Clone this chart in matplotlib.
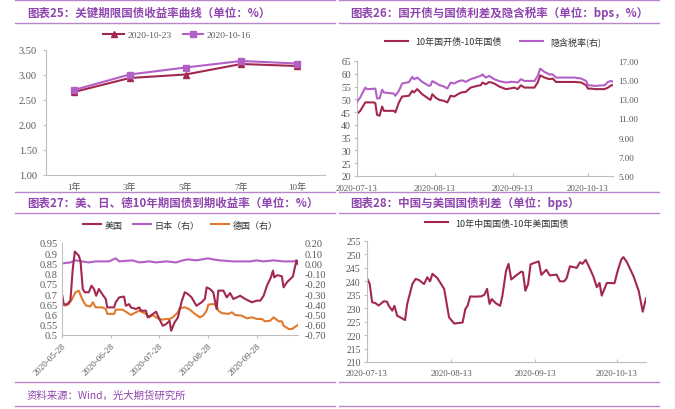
import numpy as np
import matplotlib
matplotlib.use('Agg')
import matplotlib.pyplot as plt
from matplotlib.lines import Line2D

plt.rcParams['font.family'] = ['Liberation Serif', 'Noto Sans CJK SC']
plt.rcParams['axes.unicode_minus'] = False

W, H = 675, 410

RED = '#A3284E'
PURPLE = '#B45FC6'
ORANGE = '#E07A2E'
TITLE = '#8F45AE'
RULE = '#B985CC'
AXIS = '#BFBFBF'
TXT = '#595959'

# ---- chart 25: yield curve
tenors = ['1年', '3年', '5年', '7年', '10年']
curve_1023 = [2.66, 2.94, 3.01, 3.22, 3.18]
curve_1016 = [2.70, 3.01, 3.15, 3.28, 3.23]

# ---- chart 26: days since 2020-07-13
d26 = [0, 1.3, 3.3, 4, 6.7, 7.3, 8, 9, 10, 10.7, 14.7, 15.3, 16.7, 18, 20.7, 22,
       22.7, 24, 26, 28.7, 29.3, 30, 31.3, 32.7, 34.7, 36, 37.3, 38.7, 40.7, 42,
       43.3, 45.3, 48, 49.3, 50, 51.3, 52.7, 54.7, 56.7, 59.3, 61.3, 62.7, 64,
       65.3, 66.7, 70.7, 72, 73, 74.7, 76.7, 78, 79.3, 86.7, 89.3, 91.3, 92, 93.3,
       94.7, 98.7, 100, 101.3, 102]
spread_cdb = [44.3, 45.5, 48.8, 48.8, 48.8, 48.5, 43.9, 43.6, 47.2, 45.5, 45.5, 44.9,
              48.8, 51.1, 51.4, 53.3, 52.7, 54.0, 52.0, 50.1, 49.8, 52.0, 50.7, 49.8,
              49.4, 48.8, 51.4, 51.1, 52.3, 52.8, 52.9, 54.6, 55.3, 55.5, 56.6, 55.9,
              56.8, 56.2, 55.0, 54.0, 54.3, 54.6, 54.0, 55.5, 54.6, 54.6, 56.6, 59.4,
              58.5, 57.9, 58.1, 56.8, 56.8, 56.6, 55.5, 54.2, 54.2, 54.0, 54.0, 54.6,
              55.5, 55.5]
tax_rate = [12.74, 13.2, 14.23, 14.06, 14.1, 14.13, 13.1, 13.1, 14.0, 13.72, 13.6, 13.37,
            13.9, 14.65, 14.8, 15.34, 15.1, 15.27, 14.82, 14.4, 14.45, 14.9, 14.72, 14.5,
            14.33, 14.13, 14.75, 14.65, 14.92, 14.98, 14.82, 15.1, 15.34, 15.45, 15.6,
            15.27, 15.44, 15.1, 14.9, 14.75, 14.82, 14.82, 14.75, 15.1, 14.92, 14.92,
            15.44, 16.2, 15.86, 15.6, 15.6, 15.27, 15.27, 15.17, 14.92, 14.47, 14.45,
            14.4, 14.47, 14.82, 14.92, 14.82]

# ---- chart 27: days since 2020-05-28
d27_us = [0, 1.1, 3.2, 5.3, 6.8, 8.1, 10.6, 11.7, 13.1, 14.4, 16.9, 18.6, 20.2, 21.6,
          23.3, 25.4, 27.6, 28.6, 32.9, 33.9, 36.1, 39.2, 40.3, 42.4, 43.5, 46.7, 48.8,
          49.8, 53.0, 54.1, 57.3, 59.4, 61.0, 63.6, 65.7, 67.9, 68.9, 71.1, 73.2, 75.4,
          77.5, 79.6, 81.8, 84.9, 88.1, 90.2, 91.3, 93.4, 95.5, 97.6, 98.7, 101.9,
          104.0, 106.1, 108.2, 112.5, 115.7, 119.9, 123.0, 125.2, 127.3, 129.4, 131.9,
          133.2, 134.0, 136.1, 138.8, 139.9, 142.0, 144.2, 145.8, 147.5, 148.1, 148.9]
us_10y = [0.70, 0.65, 0.65, 0.668, 0.823, 0.908, 0.888, 0.86, 0.725, 0.709, 0.709, 0.741,
          0.725, 0.692, 0.725, 0.70, 0.676, 0.635, 0.635, 0.66, 0.684, 0.688, 0.643,
          0.651, 0.635, 0.627, 0.635, 0.619, 0.619, 0.586, 0.602, 0.614, 0.586, 0.545,
          0.553, 0.57, 0.521, 0.562, 0.586, 0.66, 0.709, 0.70, 0.684, 0.643, 0.66,
          0.676, 0.733, 0.725, 0.709, 0.627, 0.717, 0.717, 0.684, 0.705, 0.676, 0.692,
          0.676, 0.66, 0.668, 0.668, 0.692, 0.741, 0.782, 0.815, 0.782, 0.793, 0.787,
          0.733, 0.758, 0.774, 0.787, 0.847, 0.864, 0.847]
d27_jp = [0, 5.3, 8.5, 12.7, 16.9, 21.2, 29.7, 33.9, 36.1, 44.5, 48.8, 55.1, 59.4, 65.7,
          72.1, 76.3, 79.4, 84.8, 92.2, 95.4, 99.6, 108.1, 118.7, 122.9, 127.1, 133.5,
          139.9, 146.2, 147.9, 148.9]
jp_10y = [0.00, 0.01, 0.03, 0.02, 0.01, 0.02, 0.02, 0.05, 0.02, 0.03, 0.01, 0.02, 0.01,
          0.02, 0.01, 0.03, 0.04, 0.03, 0.05, 0.04, 0.03, 0.02, 0.02, 0.03, 0.02, 0.03,
          0.02, 0.02, 0.03, 0.02]
d27_de = [0, 2.1, 4.2, 6.4, 8.5, 10.6, 12.3, 13.8, 15.3, 18.0, 19.5, 21.2, 25.4, 27.6,
          28.6, 32.9, 33.9, 38.2, 40.3, 43.5, 46.7, 48.8, 50.9, 53.0, 55.1, 57.3, 59.4,
          61.5, 63.6, 65.7, 67.9, 70.0, 73.2, 74.2, 77.5, 80.6, 83.9, 87.0, 89.1, 91.3,
          92.4, 95.4, 97.6, 98.7, 100.8, 105.0, 107.2, 109.3, 113.5, 116.7, 119.9, 122.9,
          126.1, 128.2, 131.5, 133.6, 136.8, 138.8, 139.9, 143.1, 145.2, 148.9]
de_10y = [-0.397, -0.413, -0.397, -0.348, -0.283, -0.266, -0.331, -0.38, -0.413, -0.42,
          -0.38, -0.429, -0.43, -0.445, -0.494, -0.494, -0.452, -0.452, -0.472, -0.504,
          -0.478, -0.462, -0.478, -0.494, -0.527, -0.504, -0.527, -0.543, -0.55, -0.543,
          -0.543, -0.527, -0.478, -0.439, -0.429, -0.45, -0.494, -0.527, -0.51, -0.462,
          -0.403, -0.397, -0.41, -0.462, -0.485, -0.494, -0.478, -0.504, -0.511, -0.537,
          -0.527, -0.543, -0.543, -0.566, -0.56, -0.527, -0.566, -0.566, -0.609, -0.641,
          -0.641, -0.602]

# ---- chart 28: days since 2020-07-13
d28 = [0, 1.0, 1.9, 3.1, 4.3, 6.2, 7.4, 8.0, 9.3, 10.1, 11.1, 12.3, 14.0, 14.8, 16.7,
       17.9, 19.1, 21.0, 22.2, 23.2, 24.1, 25.9, 28.4, 30.2, 32.1, 35.2, 36.2, 37.0,
       38.0, 39.5, 42.0, 43.2, 44.2, 45.1, 45.9, 47.5, 49.0, 49.8, 51.2, 52.1, 53.1,
       54.9, 56.8, 57.4, 58.3, 59.3, 60.2, 61.7, 63.2, 64.2, 66.0, 67.3, 69.8, 71.0,
       72.6, 73.5, 74.7, 77.2, 78.4, 79.3, 80.5, 81.5, 83.3, 84.6, 85.6, 86.4, 88.3,
       91.1, 92.3, 93.6, 94.4, 95.7, 98.1, 100.0, 101.5, 102.7]
cn_us = [241.2, 239.0, 232.2, 231.9, 231.0, 232.6, 232.4, 230.9, 229.1, 230.9, 227.2,
         226.6, 225.6, 231.6, 239.0, 240.9, 240.5, 239.0, 241.5, 240.0, 242.8, 241.2,
         237.2, 226.6, 224.3, 224.7, 229.7, 230.9, 234.4, 234.3, 234.4, 235.0, 237.2,
         231.6, 233.4, 231.8, 230.9, 234.4, 244.0, 246.5, 240.7, 242.2, 243.6, 243.4,
         236.5, 239.0, 246.3, 246.9, 247.4, 242.4, 244.3, 242.2, 242.5, 240.0, 240.0,
         241.2, 245.6, 245.0, 247.1, 246.5, 248.0, 245.9, 241.9, 237.8, 239.4, 234.7,
         239.4, 239.3, 244.0, 248.1, 249.0, 247.1, 241.9, 236.5, 228.7, 233.7]


fig = plt.figure(figsize=(W / 100, H / 100), dpi=100)


def box(l, t, r, b):
    return fig.add_axes([l / W, 1 - b / H, (r - l) / W, (b - t) / H])


def rule(x0, x1, y):
    fig.add_artist(Line2D([x0 / W, x1 / W], [1 - y / H, 1 - y / H], color=RULE, lw=1.0))


def title(x, y, s):
    fig.text(x / W, 1 - y / H, s, color=TITLE, fontsize=8.3, fontweight='bold',
             family=['Noto Sans CJK SC', 'DejaVu Sans'], va='center', ha='left')


def style(ax, right=None, ysize=6.5, rsize=6.5, rpad=4):
    for k in ['top', 'right']:
        ax.spines[k].set_visible(False)
    for k in ['left', 'bottom']:
        ax.spines[k].set_color(AXIS)
        ax.spines[k].set_linewidth(0.8)
    ax.tick_params(labelsize=6.5, colors=AXIS, labelcolor=TXT, length=2.5, width=0.8, pad=2)
    ax.tick_params(axis='y', labelsize=ysize)
    ax.patch.set_alpha(0)
    if right is not None:
        for k in ['top', 'left', 'bottom', 'right']:
            right.spines[k].set_visible(False)
        right.tick_params(labelsize=rsize, colors=AXIS, labelcolor=TXT, length=0, pad=rpad)


# rules / titles
for y in [1, 24, 193, 214, 383, 407]:
    rule(15, 335, y)
    rule(339, 659, y)
title(27, 13, '图表25：关键期限国债收益率曲线（单位：%）')
title(350, 13, '图表26：国开债与国债利差及隐含税率（单位：bps，%）')
title(27, 203, '图表27：美、日、德10年期国债到期收益率（单位：%）')
title(350, 203, '图表28：中国与美国国债利差（单位：bps）')
fig.text(27 / W, 1 - 396 / H, '资料来源：Wind，光大期货研究所', color=TITLE, fontsize=7.5,
         style='italic', family=['Noto Sans CJK SC', 'DejaVu Sans'], va='center')

# chart 25
ax1 = box(46, 51, 325, 176)
x = np.arange(len(tenors))
ax1.plot(x, curve_1023, color=RED, lw=1.5, marker='^', ms=5, label='2020-10-23')
ax1.plot(x, curve_1016, color=PURPLE, lw=1.5, marker='s', ms=5, label='2020-10-16')
ax1.set_xlim(-0.5, len(tenors) - 0.5)
ax1.set_ylim(1.0, 3.5)
ax1.set_yticks(np.arange(1.0, 3.51, 0.5))
ax1.set_yticklabels(['%.2f' % v for v in np.arange(1.0, 3.51, 0.5)])
ax1.set_xticks(x)
ax1.set_xticklabels(tenors)
style(ax1, ysize=7.5)
ax1.tick_params(axis='x', length=0, pad=5)
ax1.tick_params(axis='y', pad=4)
fig.legend(*ax1.get_legend_handles_labels(), loc='center', ncol=2, frameon=False,
           bbox_to_anchor=(177 / W, 1 - 36 / H), fontsize=6.8, handlelength=2.2,
           columnspacing=1.2, handletextpad=0.3, labelcolor=TXT)

# chart 26
ax2 = box(357, 62, 613, 177)
ax2b = ax2.twinx()
ax2.plot(d26, spread_cdb, color=RED, lw=1.5, label='10年国开债-10年国债')
ax2b.plot(d26, tax_rate, color=PURPLE, lw=1.5, label='隐含税率(右)')
ax2.set_xlim(0, 102)
ax2.set_ylim(20, 65)
ax2.set_yticks(range(20, 66, 5))
ax2b.set_ylim(5, 17)
ax2b.set_yticks(range(5, 18, 2))
ax2b.set_yticklabels(['%.2f' % v for v in range(5, 18, 2)])
ax2.set_xticks([0, 31, 62, 92])
ax2.set_xticklabels(['2020-07-13', '2020-08-13', '2020-09-13', '2020-10-13'])
style(ax2, ax2b, ysize=7)
ax2.tick_params(axis='x', direction='in', length=2, pad=6)
h = ax2.get_legend_handles_labels()[0] + ax2b.get_legend_handles_labels()[0]
fig.legend(h, [l.get_label() for l in h], loc='center', ncol=2, frameon=False,
           bbox_to_anchor=(493 / W, 1 - 42 / H), handlelength=2.6,
           columnspacing=2.0, labelcolor='#333333',
           prop={'family': ['Noto Sans CJK SC'], 'size': 6.5})

# chart 27
ax3 = box(62, 244, 298, 336)
ax3b = ax3.twinx()
ax3.plot(d27_us, us_10y, color=RED, lw=1.5, label='美国')
ax3b.plot(d27_jp, jp_10y, color=PURPLE, lw=1.5, label='日本（右）')
ax3b.plot(d27_de, de_10y, color=ORANGE, lw=1.5, label='德国（右）')
ax3.set_zorder(ax3b.get_zorder() + 1)
ax3.set_xlim(0, 149)
ax3.set_ylim(0.5, 0.95)
ax3.set_yticks(np.arange(0.5, 0.951, 0.05))
ax3.set_yticklabels(['%g' % round(v, 2) for v in np.arange(0.5, 0.951, 0.05)])
ax3b.set_ylim(-0.7, 0.2)
ax3b.set_yticks(np.arange(-0.7, 0.201, 0.1))
ax3b.set_yticklabels(['%.2f' % (round(v, 2) + 0.0) for v in np.arange(-0.7, 0.201, 0.1)])
ax3.set_xticks([0, 31, 61, 92, 123])
ax3.set_xticklabels(['2020-05-28', '2020-06-28', '2020-07-28', '2020-08-28', '2020-09-28'],
                    rotation=45, ha='right', rotation_mode='anchor')
style(ax3, ax3b, ysize=7.5, rsize=7.5, rpad=5)
ax3.tick_params(axis='y', length=0, pad=3)
h = ax3.get_legend_handles_labels()[0] + ax3b.get_legend_handles_labels()[0]
fig.legend(h, [l.get_label() for l in h], loc='center', ncol=3, frameon=False,
           bbox_to_anchor=(180 / W, 1 - 226 / H), handlelength=2.0,
           columnspacing=1.2, handletextpad=0.4, labelcolor='#333333',
           prop={'family': ['Noto Sans CJK SC'], 'size': 6.5})

# chart 28
ax4 = box(367, 242, 646, 363)
ax4.plot(d28, cn_us, color=RED, lw=1.5, label='10年中国国债-10年美国国债')
ax4.set_xlim(0, 102.7)
ax4.set_ylim(210, 255)
ax4.set_yticks(range(210, 256, 5))
ax4.set_xticks([0, 31, 62, 92])
ax4.set_xticklabels(['2020-07-13', '2020-08-13', '2020-09-13', '2020-10-13'])
style(ax4, ysize=7)
ax4.tick_params(axis='x', direction='in', length=2, pad=5)
fig.legend(*ax4.get_legend_handles_labels(), loc='center', frameon=False,
           bbox_to_anchor=(497 / W, 1 - 224 / H), handlelength=2.6, labelcolor='#333333',
           prop={'family': ['Noto Sans CJK SC'], 'size': 6.5})

fig.savefig('out.png', dpi=100)
